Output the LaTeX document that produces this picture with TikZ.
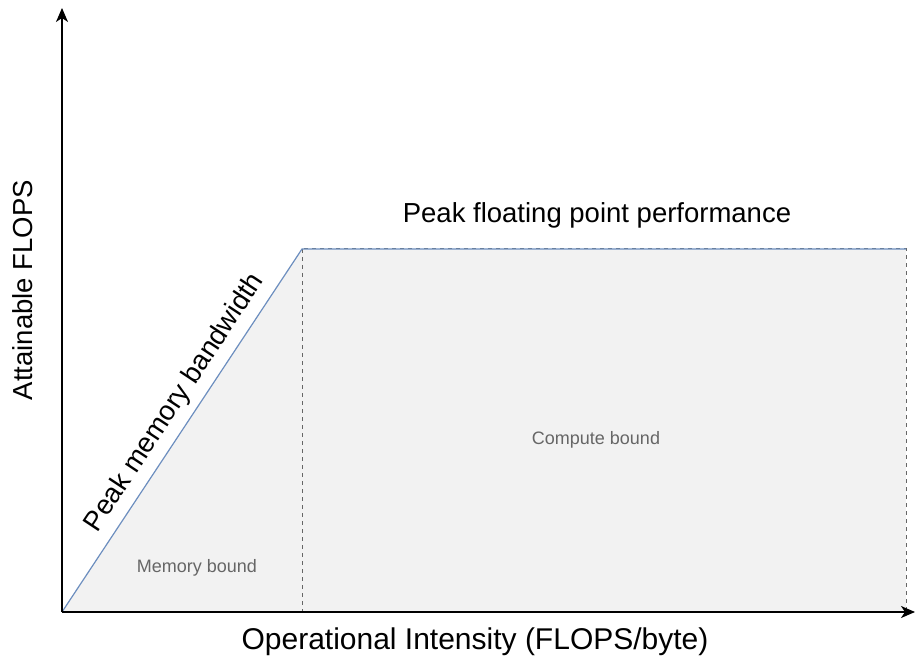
\documentclass[tikz,border=0pt]{standalone}
\usepackage{fontspec}
\setmainfont{Liberation Sans}
\usetikzlibrary{arrows.meta}
\definecolor{regionfill}{HTML}{F2F2F2}
\definecolor{regionedge}{HTML}{666666}
\definecolor{roofblue}{HTML}{6C8EBF}
\begin{document}
\begin{tikzpicture}[x=1pt,y=-1pt,
  axis/.style={line width=1.5pt,-{Stealth[length=14pt,width=12pt,inset=4pt]}},
  region/.style={fill=regionfill,draw=regionedge,line width=1pt,dash pattern=on 4pt off 4pt},
  roof/.style={draw=roofblue,line width=1.2pt},
  biglabel/.style={font=\fontsize{27.5}{32}\selectfont,text=black,inner sep=0pt},
  smalllabel/.style={font=\fontsize{18}{21}\selectfont,text=regionedge,inner sep=0pt}]
\useasboundingbox (0,0) rectangle (915,660);
\coordinate (O) at (62,612);
\coordinate (ridge) at (302,249);
\coordinate (ridgefoot) at (302,612);
\coordinate (roofend) at (906,249);
\coordinate (floorend) at (906,612);
\coordinate (ytop) at (62,8);
\coordinate (xend) at (915,612);
% regions under the roofline
\fill[regionfill] (O) -- (ridge) -- (ridgefoot) -- cycle;
\draw[region] (ridge) rectangle (floorend);
% roofline
\draw[roof] (O) -- (ridge) -- (roofend);
% axes
\draw[axis] (O) -- (ytop);
\draw[axis] (O) -- (xend);
% labels
\node[biglabel] (peakflops) at (597,215) {Peak floating point performance};
\node[biglabel,rotate=90] (ylabel) at (23,290) {Attainable FLOPS};
\node[biglabel,font=\fontsize{30}{34}\selectfont] (xlabel) at (475,642) {Operational Intensity (FLOPS/byte)};
\node[biglabel,rotate=56.5] (bwlabel) at (175,403) {Peak memory bandwidth};
\node[smalllabel] (compute) at (596,440) {Compute bound};
\node[smalllabel] (memory) at (197,568) {Memory bound};
\end{tikzpicture}
\end{document}
